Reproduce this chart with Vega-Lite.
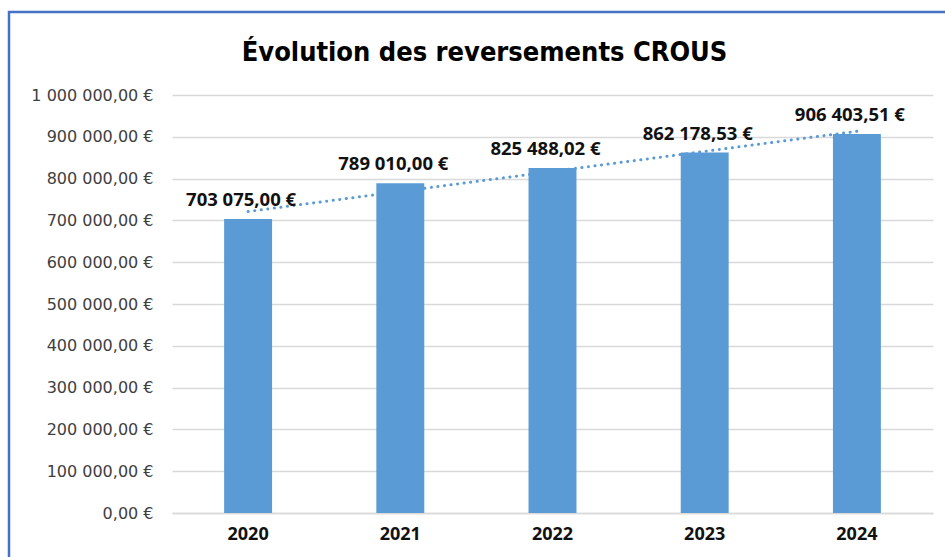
{
  "$schema": "https://vega.github.io/schema/vega-lite/v6.json",
  "autosize": "none",
  "width": 761,
  "height": 418,
  "padding": {"left": 172, "top": 95, "right": 12, "bottom": 44},
  "background": "white",
  "title": {
    "text": "Évolution des reversements CROUS",
    "font": "Liberation Sans Narrow, DejaVu Sans Condensed, Roboto Condensed, sans-serif",
    "fontSize": 27,
    "fontWeight": "bold",
    "color": "#000000",
    "anchor": "middle",
    "baseline": "alphabetic",
    "dx": -68,
    "offset": -77
  },
  "config": {
    "locale": {"number": {"decimal": ",", "thousands": "\u00a0", "grouping": [3], "currency": ["", "\u00a0€"]}},
    "view": {"stroke": null}
  },
  "data": {
    "values": [
      {"year": 2020, "value": 703075.00},
      {"year": 2021, "value": 789010.00},
      {"year": 2022, "value": 825488.02},
      {"year": 2023, "value": 862178.53},
      {"year": 2024, "value": 906403.51}
    ]
  },
  "encoding": {
    "x": {
      "field": "year",
      "type": "ordinal",
      "title": null,
      "scale": {"paddingInner": 0.685, "paddingOuter": 0.3425},
      "axis": {
        "labelAngle": 0,
        "labelFont": "Open Sans",
        "labelFontWeight": "bold",
        "labelFontSize": 18,
        "labelColor": "#111111",
        "labelPadding": 12,
        "ticks": false,
        "domainColor": "#d9d9d9",
        "domainWidth": 1.5
      }
    },
    "y": {
      "field": "value",
      "type": "quantitative",
      "title": null,
      "scale": {"domain": [0, 1000000]},
      "axis": {
        "format": "$,.2f",
        "values": [0, 100000, 200000, 300000, 400000, 500000, 600000, 700000, 800000, 900000, 1000000],
        "labelOverlap": false,
        "labelFont": "DejaVu Sans",
        "labelFontSize": 16,
        "labelColor": "#404040",
        "labelPadding": 19,
        "ticks": false,
        "domain": false,
        "gridColor": "#d9d9d9",
        "gridWidth": 1.5
      }
    }
  },
  "layer": [
    {
      "mark": {"type": "bar", "color": "#5B9BD5"}
    },
    {
      "transform": [{"regression": "value", "on": "year"}],
      "mark": {"type": "line", "color": "#5B9BD5", "strokeWidth": 3, "strokeDash": [0.1, 6.5], "strokeCap": "round"}
    },
    {
      "mark": {"type": "text", "font": "Open Sans", "fontWeight": "bold", "fontSize": 18.5, "color": "#111111", "baseline": "alphabetic", "dy": -13, "dx": -7},
      "encoding": {
        "text": {"field": "value", "type": "quantitative", "format": "$,.2f"}
      }
    },
    {
      "data": {"values": [{}]},
      "mark": {"type": "rect", "fill": null, "stroke": "#4472C4", "strokeWidth": 2.5},
      "encoding": {
        "x": {"value": -163},
        "x2": {"value": 900},
        "y": {"value": -83},
        "y2": {"value": 600}
      }
    }
  ]
}
